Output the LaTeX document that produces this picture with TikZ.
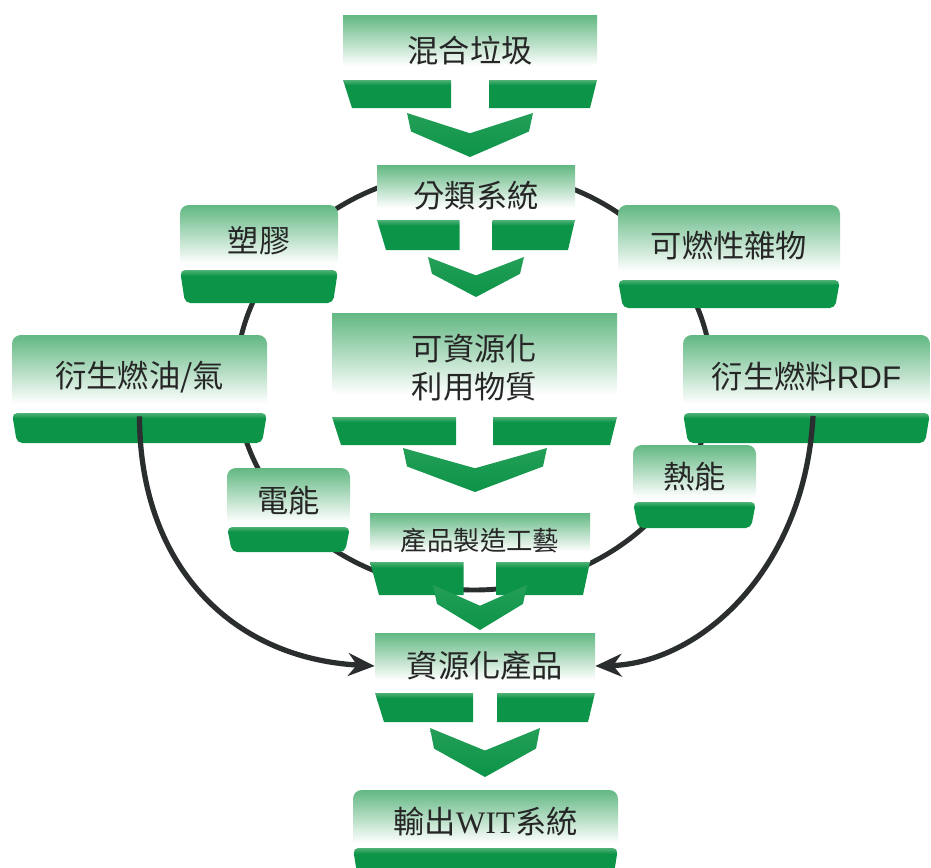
\documentclass[tikz,border=0pt]{standalone}
\usepackage{fontspec}
\newfontfamily\cjk{Noto Sans CJK TC}
\newfontfamily\latinsans{Liberation Sans}
\newfontfamily\latinserif{Liberation Serif}
\usetikzlibrary{arrows.meta}

\definecolor{gtop}{RGB}{98,184,130}
\definecolor{bandD}{RGB}{12,148,72}
\definecolor{bandL}{RGB}{80,178,118}
\definecolor{ink}{RGB}{38,38,38}
\definecolor{ringc}{RGB}{42,46,46}

% light green fading to white towards the bottom of a box face
\pgfdeclareverticalshading{boxshade}{100bp}{color(0bp)=(white); color(25bp)=(white); color(36bp)=(white); color(75bp)=(gtop); color(100bp)=(gtop)}
% dark green base with a lighter rim on top
\pgfdeclareverticalshading{bandshade}{100bp}{color(0bp)=(bandD); color(25bp)=(bandD); color(66bp)=(bandD); color(75bp)=(bandL); color(100bp)=(bandL)}

% square box with split base: name, x1, x2, top, face bottom, base bottom, half gap, text
\newcommand\sqbox[8]{%
  \pgfmathsetmacro\bxc{(#2+#3)/2}%
  \pgfmathsetmacro\bxw{(#3-#2)*0.56905}%
  \pgfmathsetmacro\bxh{(#5-#4)*0.56905}%
  \shade[shading=boxshade] (#2,#4) rectangle (#3,#5);
  \shade[shading=bandshade] (#2,#5) -- (\bxc-#7,#5) -- (\bxc-#7,#6) -- (#2+9,#6) -- cycle;
  \shade[shading=bandshade] (\bxc+#7,#5) -- (#3,#5) -- (#3-7,#6) -- (\bxc+#7,#6) -- cycle;
  \node[lbl, minimum width=\bxw pt, minimum height=\bxh pt] (#1) at (\bxc,{(#4+#5)/2+3}) {#8};
}

% rounded box with solid base: name, x1, x2, top, face bottom, base bottom, text
\newcommand\rbox[7]{%
  \pgfmathsetmacro\bxc{(#2+#3)/2}%
  \pgfmathsetmacro\bxw{(#3-#2)*0.56905}%
  \pgfmathsetmacro\bxh{(#5-#4)*0.56905}%
  \shade[shading=boxshade, rounded corners=5pt] (#2,#4) rectangle (#3,#5+10);
  \shade[shading=bandshade, rounded corners=3pt] (#2,#5) -- (#3,#5) -- (#3-5,#6) -- (#2+5,#6) -- cycle;
  \node[lbl, minimum width=\bxw pt, minimum height=\bxh pt] (#1) at (\bxc,{(#4+#5)/2+3}) {#7};
}

% downward chevron: centre x, top, half width, height
\newcommand\chev[4]{%
  \shade[top color=bandL!35!bandD, bottom color=bandD]
    (#1-#3,#2) -- (#1,#2+0.46*#4) -- (#1+#3,#2) -- (#1+#3-4,#2+0.42*#4)
    -- (#1,#2+#4) -- (#1-#3+4,#2+0.42*#4) -- cycle;
}

\begin{document}
\begin{tikzpicture}[x=0.02cm, y=-0.02cm,
  lbl/.style={inner sep=0pt, align=center, text=ink,
    font=\cjk\fontsize{17.8}{21.6}\selectfont},
  ring/.style={draw=ringc, line width=2.8pt},
  flow/.style={draw=ringc, line width=3pt,
    -{Stealth[length=15pt, width=13pt]}}]
\useasboundingbox (0,0) rectangle (931,867);

% the recycling loop behind the boxes
\draw[ring] (474,380) ellipse [x radius=238, y radius=210];

% main column
\sqbox{mix}{343}{597}{15}{80}{108}{19}{混合垃圾}
\chev{470}{113}{63}{44}
\sqbox{sort}{377}{575}{165}{220}{250}{16.5}{分類系統}
\chev{476}{257}{48}{40}
\sqbox{reuse}{332}{617}{313}{417}{445}{18.5}{可資源化\\利用物質}
\chev{475}{448}{72}{44}
\sqbox{craft}{370}{590}{513}{562}{595}{16.5}{\fontsize{15}{18}\selectfont 產品製造工藝}
\chev{480}{585}{47}{45}
\sqbox{prod}{375}{595}{633}{693}{722}{12}{資源化產品}
\chev{485}{728}{55}{49}
\rbox{wit}{353}{618}{790}{848}{880}{輸出{\latinserif WIT}系統}

% boxes on the loop
\rbox{plastic}{180}{338}{205}{270}{303}{塑膠}
\rbox{burn}{618}{840}{205}{280}{308}{可燃性雜物}
\rbox{oil}{12}{267}{335}{413}{443}{衍生燃油/氣}
\rbox{rdf}{683}{930}{335}{413}{443}{衍生燃料{\latinsans RDF}}
\rbox{elec}{227}{350}{468}{527}{552}{電能}
\rbox{heat}{633}{756}{445}{502}{528}{熱能}

% fuel outputs feeding the products
\coordinate (rdfout) at (813,416);
\draw[flow] (oil.south) .. controls +(0,147) and +(-145,-8) .. (prod.west);
\draw[flow] (rdfout) .. controls +(-8,153) and +(105,-3) .. (prod.east);
\end{tikzpicture}
\end{document}
